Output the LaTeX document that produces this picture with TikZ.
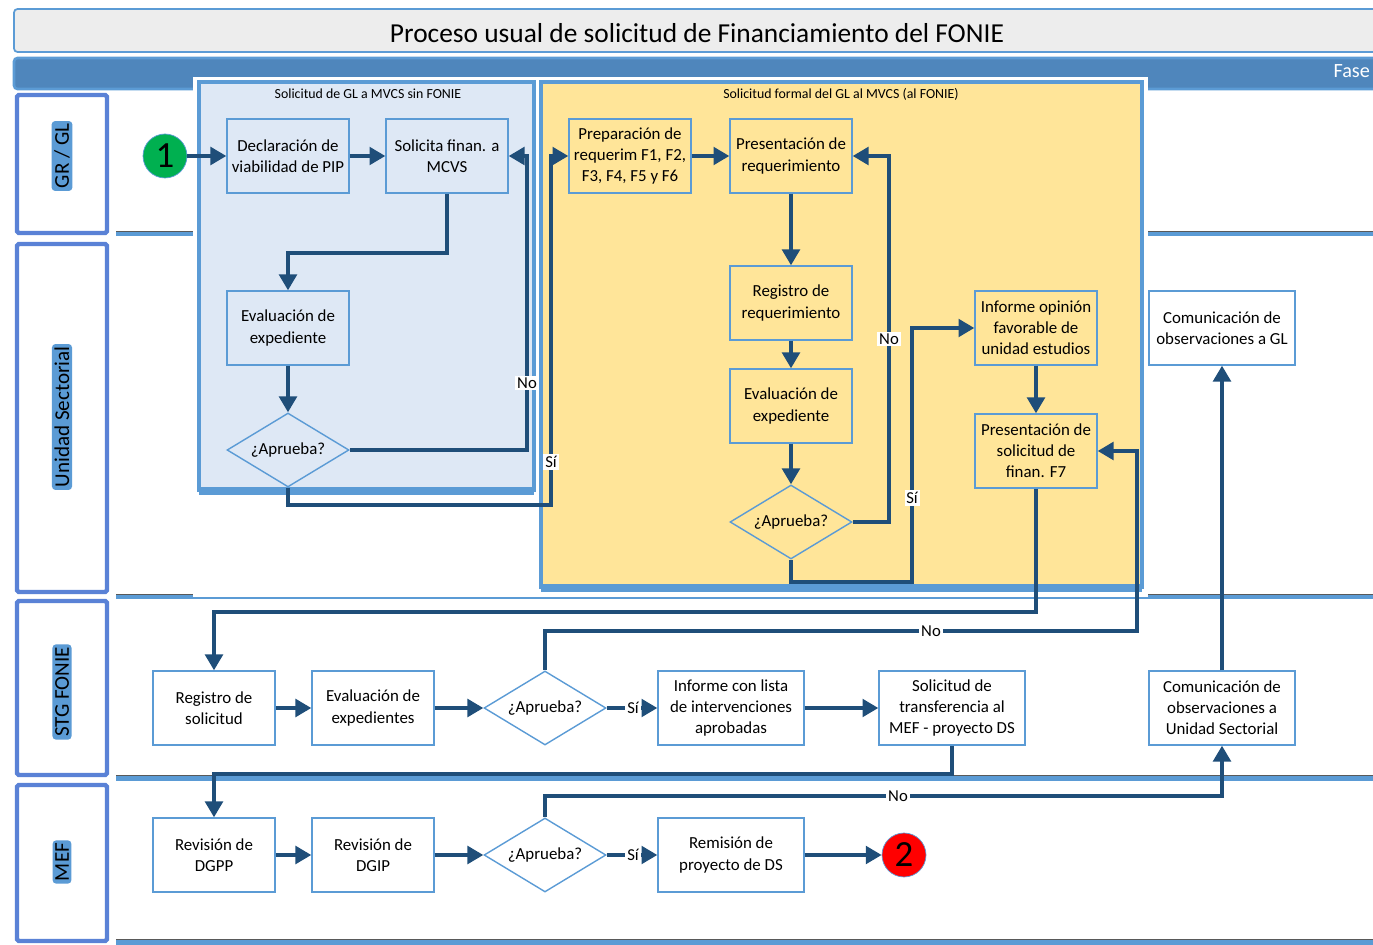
\documentclass[tikz,border=0pt]{standalone}
\usepackage{fontspec}
\setmainfont{Carlito}
\usetikzlibrary{shapes.geometric,arrows.meta}
\definecolor{flecha}{HTML}{1F4E79}
\definecolor{borde}{HTML}{5B9BD5}
\definecolor{azulfase}{HTML}{4F86BC}
\definecolor{fondoazul}{HTML}{DEE8F5}
\definecolor{fondoamarillo}{HTML}{FFE599}
\definecolor{gristitulo}{HTML}{EDEDED}
\definecolor{carril}{HTML}{5A82D6}
\definecolor{verdeini}{HTML}{00B050}
\definecolor{rojofin}{HTML}{FF0000}
\begin{document}
\begin{tikzpicture}[x=0.02cm,y=-0.02cm,
	caja/.style={draw=borde, line width=0.8pt, minimum width=2.44cm, minimum height=1.48cm, align=center, inner sep=1pt, font=\fontsize{9.6}{12}\selectfont},
	cajaancha/.style={caja, minimum width=2.92cm},
	rombo/.style={diamond, draw=borde, line width=0.8pt, aspect=1.65, minimum width=2.44cm, minimum height=1.48cm, inner sep=0pt, font=\fontsize{9.6}{12}\selectfont},
	flujo/.style={draw=flecha, line width=2pt, -{Triangle[length=9pt,width=10pt]}},
	etiqueta/.style={fill=white, inner sep=1pt, font=\fontsize{9.5}{11}\selectfont},
	carriltxt/.style={rotate=90, fill=borde, inner sep=1.5pt, rounded corners=2pt, font=\fontsize{12}{14}\selectfont},
	separa/.style={borde, line width=0.1cm},
	carrilbox/.style={draw=carril, line width=2.5pt, fill=white, rounded corners=1pt}]
	\useasboundingbox (0,0) rectangle (1373,945);

	\draw [draw=borde, line width=1pt, fill=gristitulo, rounded corners=2pt] (14,9) rectangle (1390,52);
	\node (titulo) at (697,33) {\fontsize{15.6}{18}\selectfont Proceso usual de solicitud de Financiamiento del FONIE};
	\draw [draw=borde, line width=1.5pt, fill=azulfase, rounded corners=2pt] (14,58) rectangle (1390,89);
	\node [anchor=east, text=white, inner sep=1pt, font=\fontsize{11.5}{14}\selectfont] (fase) at (1372,71) {Fase};

	\draw [carrilbox] (17,95) rectangle (107,233);
	\draw [carrilbox] (17,244) rectangle (107,592);
	\draw [carrilbox] (17,601) rectangle (107,775);
	\draw [carrilbox] (17,785) rectangle (107,941);
	\node [carriltxt] (grgl) at (62,156) {GR / GL};
	\node [carriltxt] (unidad) at (62,417) {Unidad Sectorial};
	\node [carriltxt] (stg) at (62,692) {STG FONIE};
	\node [carriltxt] (mef) at (62,862) {MEF};

	\draw [separa] (116,234) -- (1373,234);
	\draw [separa] (116,597) -- (1373,597);
	\draw [separa] (116,778) -- (1373,778);
	\draw [separa] (116,942) -- (1373,942);
	\draw [gray!70!black, thin] (116,231) -- (1373,231);
	\draw [gray!70!black, thin] (116,594) -- (1373,594);
	\draw [gray!70!black, thin] (116,775) -- (1373,775);
	\draw [gray!70!black, thin] (116,939) -- (1373,939);

	\fill [white] (193,77) rectangle (1148,597);
	\draw [draw=borde, line width=2pt, fill=fondoazul] (199,82) rectangle (534,490);
	\draw [borde, line width=4pt] (199,491) -- (534,491);
	\node [font=\fontsize{7.9}{9}\selectfont] (grupoazul) at (368,94) {Solicitud de GL a MVCS sin FONIE};
	\draw [draw=borde, line width=2pt, fill=fondoamarillo] (541,82) rectangle (1142,587);
	\draw [borde, line width=4pt] (541,588) -- (1142,588);
	\node [font=\fontsize{7.9}{9}\selectfont] (grupoamarillo) at (841,94) {Solicitud formal del GL al MVCS (al FONIE)};

	\node [circle, draw=borde, fill=verdeini, minimum size=0.88cm, inner sep=0pt, font=\fontsize{21}{21}\selectfont] (inicio) at (165,156) {1};
	\node [caja] (decl) at (288,156) {Declaración de\\viabilidad de PIP};
	\node [caja] (solic) at (447,156) {Solicita finan. a\\MCVS};
	\node [caja] (eval1) at (288,328) {Evaluación de\\expediente};
	\node [rombo] (apr1) at (288,450) {¿Aprueba?};
	\node [caja] (prep) at (630,156) {Preparación de\\requerim F1, F2,\\F3, F4, F5 y F6};
	\node [caja] (pres) at (791,156) {Presentación de\\requerimiento};
	\node [caja] (reg) at (791,303) {Registro de\\requerimiento};
	\node [caja] (eval2) at (791,406) {Evaluación de\\expediente};
	\node [rombo] (apr2) at (791,522) {¿Aprueba?};
	\node [caja] (inf) at (1036,328) {Informe opinión\\favorable de\\unidad estudios};
	\node [caja] (presol) at (1036,451) {Presentación de\\solicitud de\\finan. F7};
	\node [cajaancha] (comgl) at (1222,328) {Comunicación de\\observaciones a GL};
	\node [caja] (regsol) at (214,708) {Registro de\\solicitud};
	\node [caja] (evalx) at (373,708) {Evaluación de\\expedientes};
	\node [rombo] (apr3) at (545,708) {¿Aprueba?};
	\node [cajaancha] (infl) at (731,708) {Informe con lista\\de intervenciones\\aprobadas};
	\node [cajaancha] (soltr) at (952,708) {Solicitud de\\transferencia al\\MEF - proyecto DS};
	\node [cajaancha] (comus) at (1222,708) {Comunicación de\\observaciones a\\Unidad Sectorial};
	\node [caja] (revpp) at (214,855) {Revisión de\\DGPP};
	\node [caja] (revip) at (373,855) {Revisión de\\DGIP};
	\node [rombo] (apr4) at (545,855) {¿Aprueba?};
	\node [cajaancha] (rem) at (731,855) {Remisión de\\proyecto de DS};
	\node [circle, draw=borde, fill=rojofin, minimum size=0.88cm, inner sep=0pt, font=\fontsize{21}{21}\selectfont] (fin) at (904,855) {2};

	\draw [flujo] (inicio) -- (decl);
	\draw [flujo] (decl) -- (solic);
	\draw [flujo] (solic.south) -- (447,253) -- (288,253) -- (eval1.north);
	\draw [flujo] (eval1) -- (apr1);
	\draw [flujo] (apr1.east) -- (527,450) |- (solic.east);
	\draw [flujo] (apr1.south) -- (288,505) -- (551,505) |- (prep.west);
	\draw [flujo] (prep) -- (pres);
	\draw [flujo] (pres) -- (reg);
	\draw [flujo] (reg) -- (eval2);
	\draw [flujo] (eval2) -- (apr2);
	\draw [flujo] (apr2.east) -- (889,522) |- (pres.east);
	\draw [flujo] (apr2.south) -- (791,582) -- (912,582) |- (inf.west);
	\draw [flujo] (inf) -- (presol);
	\draw [flujo] (presol.south) -- (1036,612) -| (regsol.north);
	\draw [flujo] (regsol) -- (evalx);
	\draw [flujo] (evalx) -- (apr3);
	\draw [flujo] (apr3.north) -- (545,631) -- (1137,631) |- (presol.east);
	\draw [flujo] (apr3) -- (infl);
	\draw [flujo] (infl) -- (soltr);
	\draw [flujo] (soltr.south) -- (952,774) -| (revpp.north);
	\draw [flujo] (revpp) -- (revip);
	\draw [flujo] (revip) -- (apr4);
	\draw [flujo] (apr4.north) -- (545,796) -| (comus.south);
	\draw [flujo] (apr4) -- (rem);
	\draw [flujo] (rem) -- (fin);
	\draw [flujo] (comus) -- (comgl);

	\node [etiqueta] (no1) at (527,383) {No};
	\node [etiqueta] (si1) at (551,462) {Sí};
	\node [etiqueta] (no2) at (889,339) {No};
	\node [etiqueta] (si2) at (912,498) {Sí};
	\node [etiqueta] (no3) at (931,631) {No};
	\node [etiqueta] (si3) at (633,708) {Sí};
	\node [etiqueta] (no4) at (898,796) {No};
	\node [etiqueta] (si4) at (633,855) {Sí};
\end{tikzpicture}
\end{document}
